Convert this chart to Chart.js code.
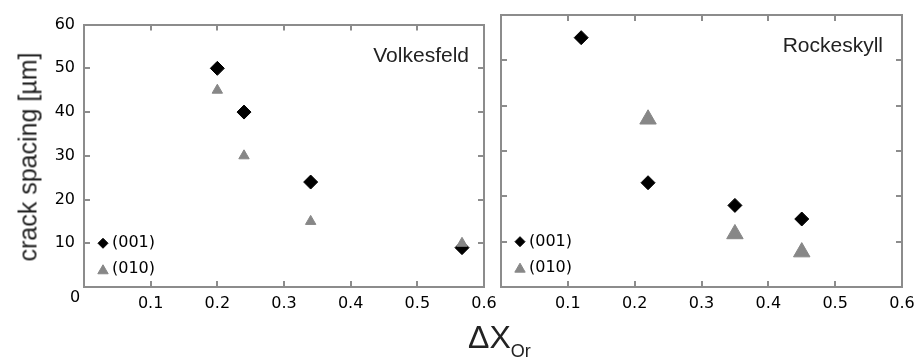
<!DOCTYPE html>
<html lang="en">
<head>
<meta charset="UTF-8">
<title>crack spacing vs ΔX_Or</title>
<script src="https://cdn.jsdelivr.net/npm/chart.js"></script>
<style>
  body { margin: 0; background: #fff; width: 922px; height: 362px; position: relative; overflow: hidden; }
  canvas { position: absolute; top: 0; }
  #left { left: 0; }
  #right { left: 470px; }
  #ytitle { position: absolute; left: 28px; top: 157px; transform: translate(-50%, -50%) rotate(-90deg);
            white-space: nowrap; font-family: "Liberation Sans", sans-serif; font-size: 25px; color: #222; }
  #xtitle { position: absolute; left: 468px; top: 321px; line-height: 32px; white-space: nowrap;
            font-family: "Liberation Sans", sans-serif; font-size: 32px; color: #222; }
  #xtitle span { font-size: 18px; position: relative; top: 9px; }
</style>
</head>
<body>
<canvas id="left" width="510" height="320"></canvas>
<canvas id="right" width="462" height="320"></canvas>
<div id="ytitle">crack spacing [µm]</div>
<div id="xtitle">ΔX<span>Or</span></div>
<script>
// values
const seriesLabels = ['(001)', '(010)'];
const panelNames = ['Volkesfeld', 'Rockeskyll'];

const volkX001 = [0.2, 0.24, 0.34, 0.567];
const volkY001 = [50, 40, 24, 9];
const volkX010 = [0.2, 0.24, 0.34, 0.567];
const volkY010 = [45, 30, 15, 10];

const rockX001 = [0.12, 0.22, 0.35, 0.45];
const rockY001 = [55, 23, 18, 15];
const rockX010 = [0.22, 0.35, 0.45];
const rockY010 = [37, 11.7, 7.7];

const axisColor = '#8c8c8c';
const tickFont = { family: '"DejaVu Sans"', size: 16 };

const pts = (xs, ys) => xs.map((x, i) => ({ x: x, y: ys[i] }));

// panel name + little legend inside the plot area, plus the lone "0" under the y axis
const panelDecor = {
  id: 'panelDecor',
  afterDatasetsDraw(chart, args, opts) {
    const { ctx, chartArea, scales } = chart;
    ctx.save();
    ctx.font = '21px "Liberation Sans"';
    ctx.fillStyle = '#222';
    ctx.textAlign = 'right';
    ctx.textBaseline = 'alphabetic';
    ctx.fillText(opts.name, chartArea.right - opts.nameInset, chartArea.top + 37);

    const lx = chartArea.left + 19;
    const ly = scales.y.getPixelForValue(10);
    chart.data.datasets.forEach((ds, i) => {
      const y = ly + i * 26;
      ctx.fillStyle = ds.backgroundColor;
      ctx.strokeStyle = ds.borderColor;
      ctx.lineWidth = 1;
      const r = ds.pointStyle === 'triangle' ? 6 : 5;
      Chart.helpers.drawPoint(ctx, { pointStyle: ds.pointStyle, radius: r, rotation: 0, borderWidth: 1 },
        lx, ds.pointStyle === 'triangle' ? y + 1.5 : y);
      ctx.fillStyle = '#000';
      ctx.textAlign = 'left';
      ctx.textBaseline = 'middle';
      ctx.font = '16px "DejaVu Sans"';
      ctx.fillText(ds.label, lx + 9, y);
    });

    if (opts.zero) {
      ctx.fillStyle = '#000';
      ctx.textAlign = 'center';
      ctx.font = '16px "DejaVu Sans"';
      ctx.fillText('0', chartArea.left - 9, scales.y.getPixelForValue(0) + 11);
    }
    ctx.restore();
  }
};

const frameAxis = (position, extra) => Object.assign({
  position: position,
  border: { display: true, color: axisColor, width: 2 },
  grid: { drawOnChartArea: false, drawTicks: true, tickLength: -6, color: axisColor, lineWidth: 2 },
}, extra);

function makeChart(id, x001, y001, x010, y010, name, sizes) {
  return new Chart(document.getElementById(id), {
    type: 'scatter',
    data: {
      datasets: [
        {
          label: seriesLabels[0],
          data: pts(x001, y001),
          pointStyle: 'rectRot',
          pointRadius: 7,
          pointHoverRadius: 7,
          pointBorderWidth: 1,
          backgroundColor: '#000',
          borderColor: '#000',
          order: 1
        },
        {
          label: seriesLabels[1],
          data: pts(x010, y010),
          pointStyle: 'triangle',
          pointRadius: sizes.tri,
          pointHoverRadius: sizes.tri,
          pointBorderWidth: 1,
          backgroundColor: '#878787',
          borderColor: '#878787',
          order: 0
        }
      ]
    },
    options: {
      responsive: false,
      animation: false,
      layout: { padding: 0 },
      plugins: {
        legend: { display: false },
        tooltip: { enabled: false },
        panelDecor: { name: name, nameInset: sizes.nameInset, zero: sizes.zero }
      },
      scales: {
        x: frameAxis('bottom', {
          type: 'linear', min: 0, max: 0.6,
          ticks: { stepSize: 0.1, padding: 13, color: '#000', font: tickFont,
                   callback: v => (v === 0 ? '' : v.toFixed(1)) },
          afterFit: s => { s.height = 33; }
        }),
        x2: frameAxis('top', {
          type: 'linear', min: 0, max: 0.6,
          ticks: { stepSize: 0.1, display: false },
          afterFit: s => { s.height = 15; }
        }),
        y: frameAxis('left', {
          type: 'linear', min: 0, max: 60,
          ticks: { stepSize: 10, padding: 15, color: '#000', font: tickFont, display: sizes.yLabels,
                   callback: v => (v === 0 ? '' : v) },
          afterFit: s => { s.width = sizes.left; }
        }),
        y2: frameAxis('right', {
          type: 'linear', min: 0, max: 60,
          ticks: { stepSize: 10, display: false },
          afterFit: s => { s.width = sizes.right; }
        })
      }
    },
    plugins: [panelDecor]
  });
}

makeChart('left', volkX001, volkY001, volkX010, volkY010, panelNames[0],
  { left: 84, right: 26, tri: 6, nameInset: 15, zero: true, yLabels: true });
makeChart('right', rockX001, rockY001, rockX010, rockY010, panelNames[1],
  { left: 31, right: 30, tri: 9.5, nameInset: 19, zero: false, yLabels: false });
</script>
</body>
</html>
